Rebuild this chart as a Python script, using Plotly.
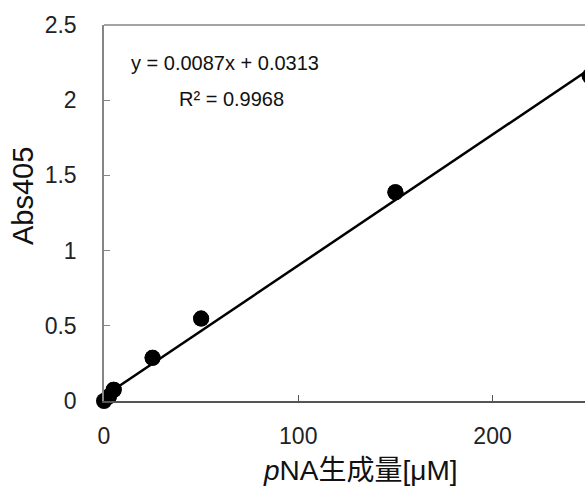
import plotly.graph_objects as go
import numpy as np

# Data
pna_um = [0, 2.5, 5, 25, 50, 150, 250]
abs405 = [0.0, 0.03, 0.075, 0.287, 0.548, 1.388, 2.16]
slope = 0.0087
intercept = 0.0313
eq_text = "y = 0.0087x + 0.0313"
r2_text = "R² = 0.9968"
x_ticks = [0, 100, 200]
y_ticks = [0, 0.5, 1, 1.5, 2, 2.5]
y_ticktext = ["0", "0.5", "1", "1.5", "2", "2.5"]

FONT = "Liberation Sans, Arial, Noto Sans CJK JP, sans-serif"
X_RANGE = [0, 247.6]

fit_x = np.array([min(pna_um), max(pna_um)])
fit_y = slope * fit_x + intercept

fig = go.Figure()
fig.add_trace(go.Scatter(x=fit_x, y=fit_y, mode="lines",
                         line=dict(color="black", width=2.5),
                         cliponaxis=True, showlegend=False, hoverinfo="skip"))
# unclipped markers (points sitting on the axes)
fig.add_trace(go.Scatter(x=pna_um, y=abs405, mode="markers",
                         marker=dict(color="black", size=16),
                         cliponaxis=False, showlegend=False))
# clipped copy on an overlaid axis (point beyond the right edge, half visible)
fig.add_trace(go.Scatter(x=pna_um, y=abs405, mode="markers", xaxis="x2",
                         marker=dict(color="black", size=16),
                         cliponaxis=True, showlegend=False, hoverinfo="skip"))

W, H = 585, 489
l, r, t, b = 104, 0, 25, 88

fig.update_layout(
    width=W, height=H,
    margin=dict(l=l, r=r, t=t, b=b),
    plot_bgcolor="white", paper_bgcolor="white",
    font=dict(family=FONT, color="#222"),
    xaxis=dict(range=X_RANGE, tickvals=x_ticks, ticks="inside", ticklen=6,
               tickcolor="#555", showline=True, linecolor="#555", linewidth=1.5,
               mirror=False, showgrid=False, zeroline=False,
               tickfont=dict(size=23, family=FONT, color="#222"),
               ticklabelstandoff=14),
    xaxis2=dict(range=X_RANGE, overlaying="x", visible=False, showgrid=False,
                zeroline=False),
    yaxis=dict(range=[0, 2.5], tickvals=y_ticks, ticktext=y_ticktext,
               ticks="inside", ticklen=6, tickcolor="#868686",
               showline=True, linecolor="#868686", linewidth=1.5,
               showgrid=False, zeroline=False,
               tickfont=dict(size=23, family=FONT, color="#222"),
               ticklabelstandoff=21),
    shapes=[dict(type="line", xref="paper", yref="paper", x0=0, x1=1, y0=1, y1=1,
                 line=dict(color="#868686", width=1.5))],
)

pw, ph = W - l - r, H - t - b
def px_ann(text, px, py, size, angle=0):
    fig.add_annotation(text=text, xref="paper", yref="paper",
                       x=(px - l) / pw, y=1 - (py - t) / ph,
                       xanchor="center", yanchor="middle", showarrow=False,
                       textangle=angle, font=dict(size=size, family=FONT, color="#111"))

px_ann(eq_text, 225, 63, 20)
px_ann(r2_text, 231, 99, 20)
px_ann("<i>p</i>NA生成量[μM]", 360, 470, 28)
px_ann("Abs405", 23, 196, 29, angle=-90)

fig.write_html("out.html")
